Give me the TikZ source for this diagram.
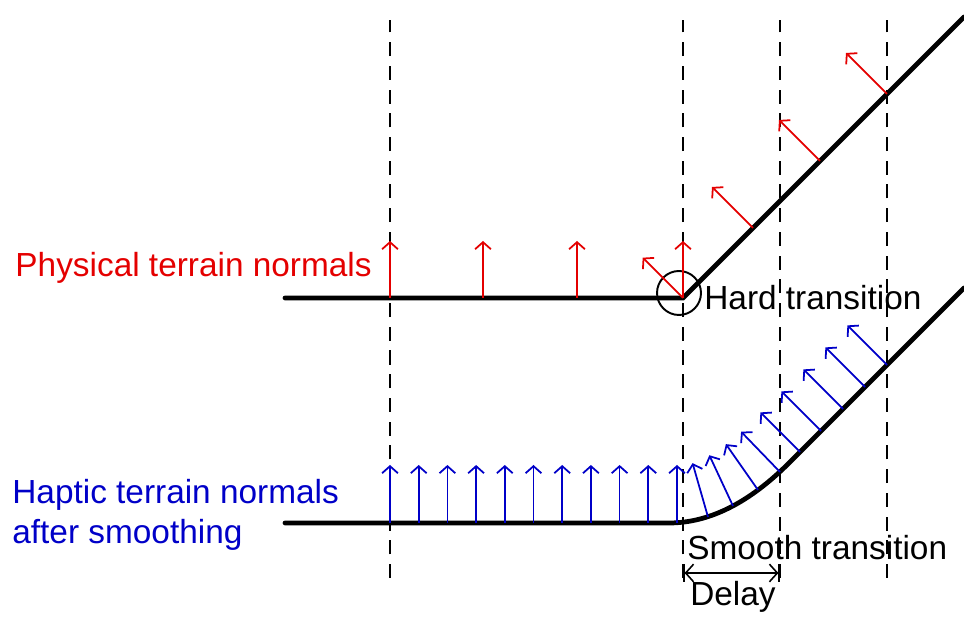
\documentclass[tikz,border=0pt]{standalone}
\usepackage{fontspec}
\setmainfont{Liberation Sans}
\usetikzlibrary{arrows.meta}
\definecolor{physred}{RGB}{228,0,0}
\definecolor{haptblue}{RGB}{0,0,200}
\begin{document}
\begin{tikzpicture}[x=0.02cm,y=0.02cm,
  terrain/.style={line width=2.7pt,line cap=round},
  guide/.style={line width=1pt,dash pattern=on 8pt off 5.5pt},
  normal/.style={line width=1pt,-{Straight Barb[length=4pt,width=9pt]}},
  lbl/.style={font=\fontsize{19}{22.7}\selectfont,inner sep=0pt}]
 \useasboundingbox (0,0) rectangle (964,618);
 \foreach \x in {390,683,780,887} \draw[guide] (\x,40)--(\x,598);
 % physical terrain
 \draw[terrain] (285,320)--(683,320)--(964,601);
 \draw[line width=1.1pt] (679,325) circle (22);
 \foreach \x in {390,483,577,683} \draw[normal,physred] (\x,320)--++(0,57);
 \draw[normal,physred] (683,320)--++(135:57);
 \foreach \x in {753,820,887} \draw[normal,physred] (\x,{\x-363})--++(135:58);
 % haptic terrain
 \draw[terrain] (285,95)--(669,95) .. controls (709,95) and (749,115) .. (789,155)--(964,330);
 \foreach \i in {0,...,10} \draw[normal,haptblue] ({390+28.7*\i},95)--++(0,58);
 \foreach \x/\y/\a in {708/101/106,733/112/115,758/128/125,780/146/134}
  \draw[normal,haptblue] (\x,\y)--++(\a:56);
 \foreach \x in {800,821,843,865,887} \draw[normal,haptblue] (\x,{\x-634})--++(135:56);
 \draw[line width=0.9pt,{Bar[width=10pt]Straight Barb[length=4.5pt,width=10pt]}-{Straight Barb[length=4.5pt,width=10pt]Bar[width=10pt]}] (683,45)--(780,45);
 % labels
 \node[lbl,physred,anchor=east] (physlbl) at (372,350) {Physical terrain normals};
 \node[lbl,haptblue,align=left,anchor=west] (haptlbl) at (12,103) {Haptic terrain normals\\after smoothing};
 \node[lbl,anchor=west] (hardlbl) at (704,320) {Hard transition};
 \node[lbl,anchor=west] (smoothlbl) at (687,70) {Smooth transition};
 \node[lbl] (delaylbl) at (733,21) {Delay};
\end{tikzpicture}
\end{document}
